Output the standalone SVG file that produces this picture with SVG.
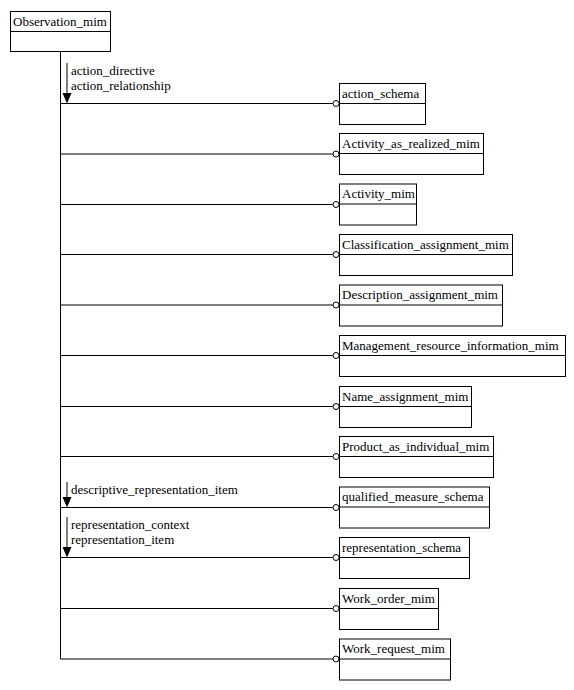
<svg xmlns="http://www.w3.org/2000/svg" width="574" height="690" viewBox="0 0 574 690">
<style>
.box{fill:#fff;stroke:#000;stroke-width:1}
.ln{stroke:#000;stroke-width:1;fill:none}
.t{font-family:"Liberation Serif","Times New Roman",serif;font-size:13px;fill:#000}
.c{fill:#fff;stroke:#000;stroke-width:1}
.ah{fill:#000;stroke:none}
</style>
<rect x="0" y="0" width="574" height="690" fill="#fff"/>
<g id="connectors">
<line class="ln" x1="60.5" y1="51" x2="60.5" y2="659"/>
<line class="ln" x1="60.5" y1="103.5" x2="333" y2="103.5"/><circle class="c" cx="336" cy="103.5" r="3"/>
<line class="ln" x1="60.5" y1="154" x2="333" y2="154"/><circle class="c" cx="336" cy="154" r="3"/>
<line class="ln" x1="60.5" y1="204.5" x2="333" y2="204.5"/><circle class="c" cx="336" cy="204.5" r="3"/>
<line class="ln" x1="60.5" y1="254.5" x2="333" y2="254.5"/><circle class="c" cx="336" cy="254.5" r="3"/>
<line class="ln" x1="60.5" y1="305" x2="333" y2="305"/><circle class="c" cx="336" cy="305" r="3"/>
<line class="ln" x1="60.5" y1="355.5" x2="333" y2="355.5"/><circle class="c" cx="336" cy="355.5" r="3"/>
<line class="ln" x1="60.5" y1="406.5" x2="333" y2="406.5"/><circle class="c" cx="336" cy="406.5" r="3"/>
<line class="ln" x1="60.5" y1="456.5" x2="333" y2="456.5"/><circle class="c" cx="336" cy="456.5" r="3"/>
<line class="ln" x1="60.5" y1="507.5" x2="333" y2="507.5"/><circle class="c" cx="336" cy="507.5" r="3"/>
<line class="ln" x1="60.5" y1="557.5" x2="333" y2="557.5"/><circle class="c" cx="336" cy="557.5" r="3"/>
<line class="ln" x1="60.5" y1="608.5" x2="333" y2="608.5"/><circle class="c" cx="336" cy="608.5" r="3"/>
<line class="ln" x1="60.5" y1="659" x2="333" y2="659"/><circle class="c" cx="336" cy="659" r="3"/>
<line class="ln" x1="67" y1="63" x2="67" y2="94"/><polygon class="ah" points="62.5,93 71.5,93 67,103.5"/>
<line class="ln" x1="67" y1="482" x2="67" y2="497"/><polygon class="ah" points="62.5,497 71.5,497 67,507.5"/>
<line class="ln" x1="67" y1="517" x2="67" y2="547"/><polygon class="ah" points="62.5,547 71.5,547 67,557.5"/>
<text class="t" x="71" y="75">action_directive</text>
<text class="t" x="71" y="90">action_relationship</text>
<text class="t" x="71" y="494">descriptive_representation_item</text>
<text class="t" x="71" y="529">representation_context</text>
<text class="t" x="71" y="544">representation_item</text>
</g>
<g id="Observation_mim"><rect class="box" x="10.5" y="11.5" width="100" height="40"/><line class="ln" x1="10.5" y1="31.5" x2="110.5" y2="31.5"/><text class="t" x="13" y="25.5">Observation_mim</text></g>
<g id="action_schema"><rect class="box" x="339.5" y="83.5" width="86" height="41"/><line class="ln" x1="339.5" y1="103.5" x2="425.5" y2="103.5"/><text class="t" x="342" y="97.5">action_schema</text></g>
<g id="Activity_as_realized_mim"><rect class="box" x="339.5" y="133.5" width="144" height="41"/><line class="ln" x1="339.5" y1="153.5" x2="483.5" y2="153.5"/><text class="t" x="342" y="147.5">Activity_as_realized_mim</text></g>
<g id="Activity_mim"><rect class="box" x="339.5" y="184" width="77" height="41"/><line class="ln" x1="339.5" y1="204" x2="416.5" y2="204"/><text class="t" x="342" y="198">Activity_mim</text></g>
<g id="Classification_assignment_mim"><rect class="box" x="339.5" y="234.5" width="173" height="41"/><line class="ln" x1="339.5" y1="254.5" x2="512.5" y2="254.5"/><text class="t" x="342" y="248.5">Classification_assignment_mim</text></g>
<g id="Description_assignment_mim"><rect class="box" x="339.5" y="285" width="163" height="41"/><line class="ln" x1="339.5" y1="305" x2="502.5" y2="305"/><text class="t" x="342" y="299">Description_assignment_mim</text></g>
<g id="Management_resource_information_mim"><rect class="box" x="339.5" y="335.5" width="226" height="41"/><line class="ln" x1="339.5" y1="355.5" x2="565.5" y2="355.5"/><text class="t" x="342" y="349.5">Management_resource_information_mim</text></g>
<g id="Name_assignment_mim"><rect class="box" x="339.5" y="386.5" width="132" height="41"/><line class="ln" x1="339.5" y1="406.5" x2="471.5" y2="406.5"/><text class="t" x="342" y="400.5">Name_assignment_mim</text></g>
<g id="Product_as_individual_mim"><rect class="box" x="339.5" y="436.5" width="154" height="41"/><line class="ln" x1="339.5" y1="456.5" x2="493.5" y2="456.5"/><text class="t" x="342" y="450.5">Product_as_individual_mim</text></g>
<g id="qualified_measure_schema"><rect class="box" x="339.5" y="487" width="150" height="41"/><line class="ln" x1="339.5" y1="507" x2="489.5" y2="507"/><text class="t" x="342" y="501">qualified_measure_schema</text></g>
<g id="representation_schema"><rect class="box" x="339.5" y="537.5" width="130" height="41"/><line class="ln" x1="339.5" y1="557.5" x2="469.5" y2="557.5"/><text class="t" x="342" y="551.5">representation_schema</text></g>
<g id="Work_order_mim"><rect class="box" x="339.5" y="588.5" width="99" height="41"/><line class="ln" x1="339.5" y1="608.5" x2="438.5" y2="608.5"/><text class="t" x="342" y="602.5">Work_order_mim</text></g>
<g id="Work_request_mim"><rect class="box" x="339.5" y="639" width="111" height="41"/><line class="ln" x1="339.5" y1="659" x2="450.5" y2="659"/><text class="t" x="342" y="653">Work_request_mim</text></g>
</svg>
